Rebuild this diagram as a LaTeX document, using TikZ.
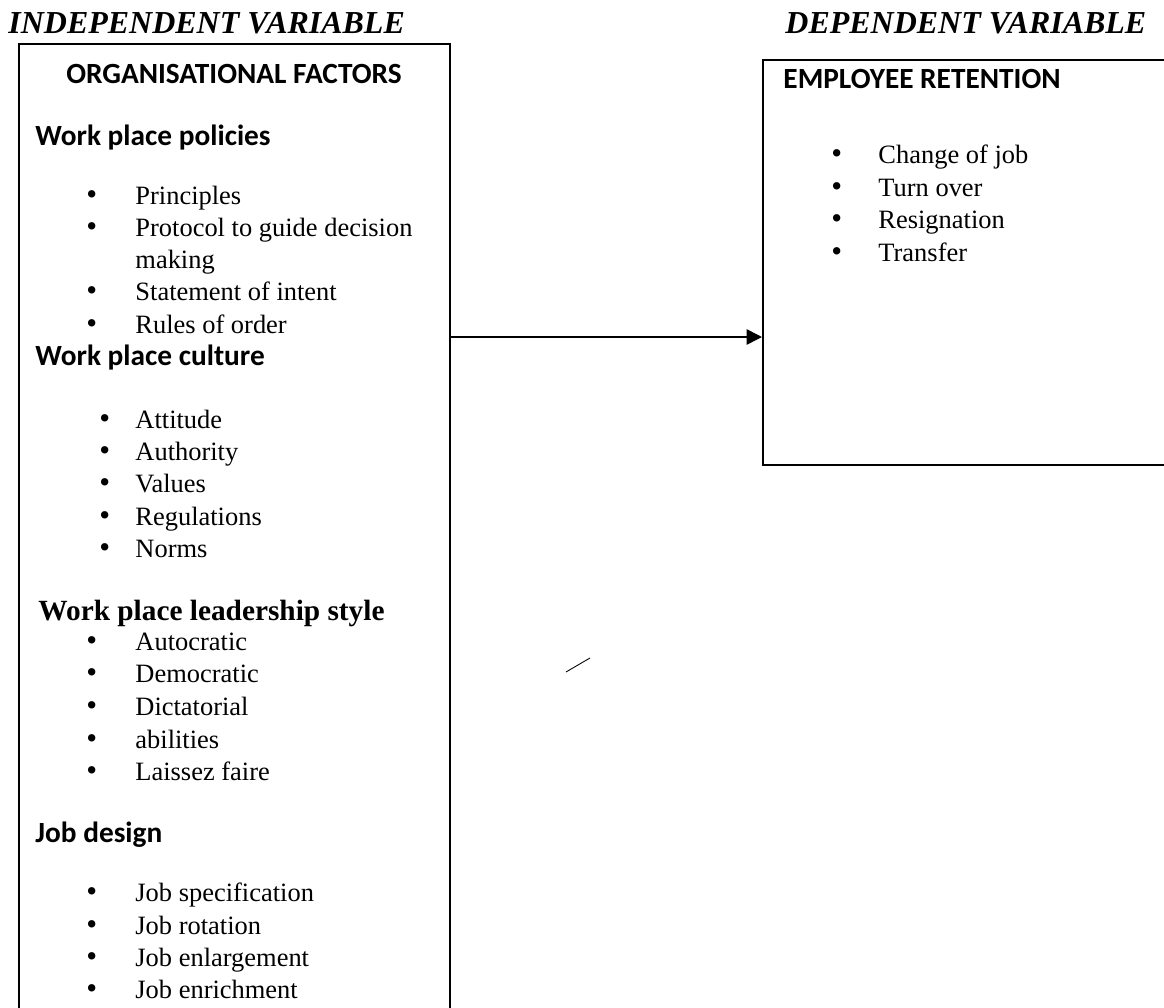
\documentclass[tikz,border=0pt]{standalone}
\usepackage{fontspec}
\setmainfont{Liberation Serif}
\newfontfamily\calibrifont{Carlito}
\usetikzlibrary{arrows.meta}

\begin{document}
\begin{tikzpicture}[x=0.4536pt, y={(0pt,-0.4536pt)},
		vartitle/.style={anchor=base west, inner sep=0pt, font=\bfseries\itshape\fontsize{14.5}{17}\selectfont},
		head/.style={anchor=base west, inner sep=0pt, font=\calibrifont\bfseries\fontsize{13.3}{16}\selectfont},
		lead/.style={anchor=base west, inner sep=0pt, font=\bfseries\fontsize{13.3}{16}\selectfont},
		cont/.style={anchor=base west, inner sep=0pt, font=\fontsize{12}{14}\selectfont},
		bul/.style={inner sep=0pt, text height=8.2pt, text depth=2.6pt, font=\fontsize{14}{14}\selectfont},
		item/.style={cont, text height=8.2pt, text depth=2.6pt, label={[bul, label distance=#1]left:\textbullet}},
		item/.default=17pt,
		frame/.style={draw, line width=1pt, anchor=north west, inner sep=0pt}]
	\useasboundingbox (0,0) rectangle (1164,1008);
	
	\node[vartitle] (indep) at (8,33) {INDEPENDENT VARIABLE};
	\node[vartitle] (dep) at (785,33) {DEPENDENT VARIABLE};
	
	\node[frame, minimum width=195.5pt, minimum height=445pt] (ivbox) at (18,43) {};
	\node[frame, minimum width=190pt, minimum height=183.7pt] (dvbox) at (762,59) {};
	
	\node[head, anchor=base] (org) at (234,83) {ORGANISATIONAL FACTORS};
	\node[head] (pol) at (35,145) {Work place policies};
	\node[item] (pol1) at (135,204) {Principles};
	\node[item] (pol2) at (135,236) {Protocol to guide decision};
	\node[cont] (pol2b) at (135,268) {making};
	\node[item] (pol3) at (135,300) {Statement of intent};
	\node[item] (pol4) at (135,333) {Rules of order};
	
	\node[head] (cul) at (35,365) {Work place culture};
	\node[item=11.1pt] (cul1) at (135,428) {Attitude};
	\node[item=11.1pt] (cul2) at (135,460) {Authority};
	\node[item=11.1pt] (cul3) at (135,492) {Values};
	\node[item=11.1pt] (cul4) at (135,525) {Regulations};
	\node[item=11.1pt] (cul5) at (135,557) {Norms};
	
	\node[lead] (lea) at (38,620) {Work place leadership style};
	\node[item] (lea1) at (135,650) {Autocratic};
	\node[item] (lea2) at (135,682) {Democratic};
	\node[item] (lea3) at (135,715) {Dictatorial};
	\node[item] (lea4) at (135,748) {abilities};
	\node[item] (lea5) at (135,780) {Laissez faire};
	
	\node[head] (job) at (35,842) {Job design};
	\node[item] (job1) at (135,901) {Job specification};
	\node[item] (job2) at (135,934) {Job rotation};
	\node[item] (job3) at (135,966) {Job enlargement};
	\node[item] (job4) at (135,998) {Job enrichment};
	
	\node[head] (emp) at (783,88) {EMPLOYEE RETENTION};
	\node[item=16.1pt] (ret1) at (878,163) {Change of job};
	\node[item=16.1pt] (ret2) at (878,196) {Turn over};
	\node[item=16.1pt] (ret3) at (878,228) {Resignation};
	\node[item=16.1pt] (ret4) at (878,261) {Transfer};
	
	\coordinate (mid) at (0,337);
	\draw[-{Triangle[length=7pt, width=7pt]}, line width=0.7pt] (ivbox.east |- mid) -- (dvbox.west |- mid);
	\draw[line width=0.4pt] (566,672) -- (590,658);
\end{tikzpicture}
\end{document}
